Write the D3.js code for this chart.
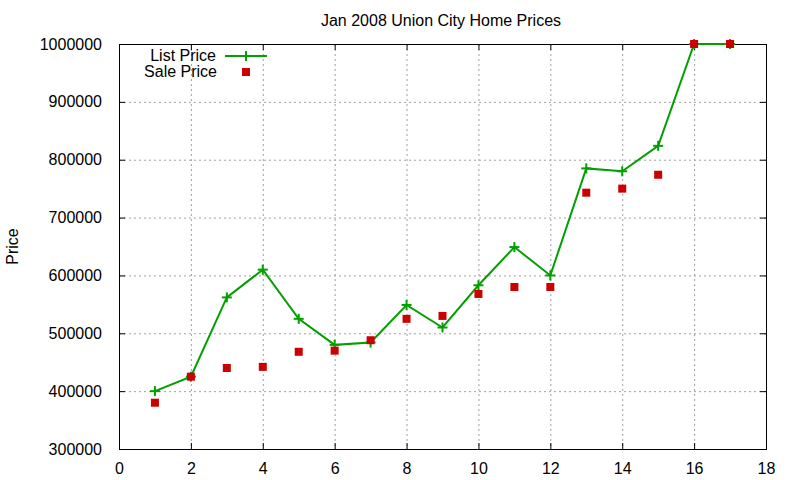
<!DOCTYPE html>
<html>
<head>
<meta charset="utf-8">
<script src="https://cdn.jsdelivr.net/npm/d3@7"></script>
<style>
  body { margin: 0; background: #fff; }
  text { font-family: "Liberation Sans", Arial, sans-serif; }
</style>
</head>
<body>
<div id="canvas"></div>
<script>
// chart data
var houses = [1, 2, 3, 4, 5, 6, 7, 8, 9, 10, 11, 12, 13, 14, 15, 16, 17];
var listPrice = [400000, 425000, 562000, 610000, 525000, 480000, 484000, 549000, 510000,
                 583000, 649000, 600000, 785000, 780000, 824000, 1000000, 1000000];
var salePrice = [380000, 425000, 440000, 442000, 468000, 470000, 488000, 525000, 530000,
                 568000, 580000, 580000, 743000, 750000, 774000, 1000000, 1000000];
var xTicks = [0, 2, 4, 6, 8, 10, 12, 14, 16, 18];
var yTicks = [300000, 400000, 500000, 600000, 700000, 800000, 900000, 1000000];

var width = 800, height = 480;
var pLeft = 119, pRight = 766, pTop = 44, pBottom = 449;

var svg = d3.select('#canvas').append('svg')
  .attr('width', width)
  .attr('height', height);

var x = d3.scaleLinear().domain([0, 18]).range([pLeft, pRight]);
var y = d3.scaleLinear().domain([300000, 1000000]).range([pBottom, pTop]);

// grid
var grid = svg.append('g')
  .attr('stroke', '#a0a0a0')
  .attr('stroke-width', 1)
  .attr('stroke-dasharray', '2,3');
grid.selectAll('line.gx').data(xTicks.slice(1, -1)).enter().append('line')
  .attr('x1', function(d) { return x(d) + 0.5; })
  .attr('x2', function(d) { return x(d) + 0.5; })
  .attr('y1', pTop).attr('y2', pBottom);
grid.selectAll('line.gy').data(yTicks.slice(1, -1)).enter().append('line')
  .attr('y1', function(d) { return y(d) + 0.5; })
  .attr('y2', function(d) { return y(d) + 0.5; })
  .attr('x1', pLeft).attr('x2', pRight);

// axes, ticks pointing inward and mirrored like gnuplot
var fmt = d3.format('d');
var axisStyle = function(g) {
  g.select('.domain').remove();
  g.selectAll('.tick line').attr('stroke', '#000');
  g.selectAll('.tick text')
    .attr('fill', '#000')
    .style('font-family', '"Liberation Sans", Arial, sans-serif')
    .style('font-size', '16px');
};

svg.append('g')
  .attr('transform', 'translate(0,' + pBottom + ')')
  .call(d3.axisBottom(x).tickValues(xTicks).tickSize(-6).tickPadding(14).tickFormat(fmt))
  .call(axisStyle);
svg.append('g')
  .attr('transform', 'translate(0,' + pTop + ')')
  .call(d3.axisTop(x).tickValues(xTicks).tickSize(-6).tickFormat(''))
  .call(axisStyle);
svg.append('g')
  .attr('transform', 'translate(' + pLeft + ',0)')
  .call(d3.axisLeft(y).tickValues(yTicks).tickSize(-6).tickPadding(17).tickFormat(fmt))
  .call(axisStyle);
svg.append('g')
  .attr('transform', 'translate(' + pRight + ',0)')
  .call(d3.axisRight(y).tickValues(yTicks).tickSize(-6).tickFormat(''))
  .call(axisStyle);

svg.append('rect')
  .attr('x', pLeft + 0.5).attr('y', pTop + 0.5)
  .attr('width', pRight - pLeft).attr('height', pBottom - pTop)
  .attr('fill', 'none').attr('stroke', '#000').attr('stroke-width', 1);

// title and axis label
svg.append('text')
  .attr('x', 441).attr('y', 26)
  .attr('text-anchor', 'middle')
  .style('font-size', '16px')
  .text('Jan 2008 Union City Home Prices');

svg.append('text')
  .attr('transform', 'translate(18,' + ((pTop + pBottom) / 2) + ') rotate(-90)')
  .attr('text-anchor', 'middle')
  .style('font-size', '16px')
  .text('Price');

var green = '#00a000', red = '#cc0000';

// list price line
var line = d3.line()
  .x(function(d, i) { return x(houses[i]); })
  .y(function(d) { return y(d); });

svg.append('path')
  .datum(listPrice)
  .attr('d', line)
  .attr('fill', 'none')
  .attr('stroke', green)
  .attr('stroke-width', 2);

var plus = function(sel) {
  sel.append('line').attr('x1', -5).attr('x2', 5).attr('y1', 0).attr('y2', 0);
  sel.append('line').attr('x1', 0).attr('x2', 0).attr('y1', -5).attr('y2', 5);
};

svg.append('g')
  .attr('stroke', green).attr('stroke-width', 2)
  .selectAll('g').data(listPrice).enter().append('g')
  .attr('transform', function(d, i) { return 'translate(' + x(houses[i]) + ',' + y(d) + ')'; })
  .call(plus);

// sale price points
svg.append('g')
  .selectAll('rect').data(salePrice).enter().append('rect')
  .attr('x', function(d, i) { return x(houses[i]) - 4; })
  .attr('y', function(d) { return y(d) - 4; })
  .attr('width', 8).attr('height', 8)
  .attr('fill', red);

// legend
var legend = svg.append('g').style('font-size', '16px');
legend.append('text')
  .attr('x', 216).attr('y', 61)
  .attr('text-anchor', 'end')
  .text('List Price');
legend.append('line')
  .attr('x1', 225).attr('x2', 267).attr('y1', 56).attr('y2', 56)
  .attr('stroke', green).attr('stroke-width', 2);
legend.append('g')
  .attr('transform', 'translate(246,56)')
  .attr('stroke', green).attr('stroke-width', 2)
  .call(plus);
legend.append('text')
  .attr('x', 217).attr('y', 77)
  .attr('text-anchor', 'end')
  .text('Sale Price');
legend.append('rect')
  .attr('x', 242).attr('y', 68).attr('width', 8).attr('height', 8)
  .attr('fill', red);
</script>
</body>
</html>
